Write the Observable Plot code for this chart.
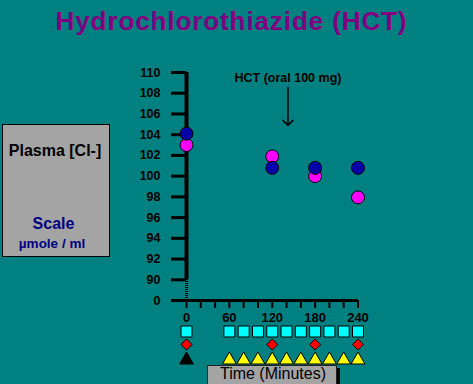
<!DOCTYPE html>
<html>
<head>
<meta charset="utf-8">
<script src="https://cdn.jsdelivr.net/npm/d3@7"></script>
<script src="https://cdn.jsdelivr.net/npm/@observablehq/plot@0.6"></script>
<style>
  html, body { margin: 0; padding: 0; background: #008080; }
  #wrap { position: relative; width: 473px; height: 384px; overflow: hidden; background: #008080; font-family: "Liberation Sans", Arial, sans-serif; }
  #wrap svg { position: absolute; left: 0; top: 0; }
  .abs { position: absolute; white-space: nowrap; line-height: 1; }
  #title { left: 0; width: 463px; text-align: center; top: 8px; font-size: 26px; letter-spacing: 0.9px; font-weight: bold; color: #800080; }
  #leftbox { left: 2px; top: 124px; width: 108px; height: 133px; box-sizing: border-box; background: #a4a4a4; border: 1px solid #000; }
  #timebox { left: 207px; top: 365px; width: 130px; height: 24px; box-sizing: border-box; background: #a4a4a4; border: 1px solid #222; box-shadow: 3px 3px 0 #000; }
  .ctr { text-align: center; }
</style>
</head>
<body>
<div id="wrap">
  <div id="plot"></div>
  <div id="title" class="abs">Hydrochlorothiazide (HCT)</div>
  <div id="leftbox" class="abs"></div>
  <div class="abs ctr" style="left:0;width:110px;top:143px;font-size:16px;font-weight:bold;color:#000;">Plasma [Cl-]</div>
  <div class="abs ctr" style="left:0;width:107px;top:216px;font-size:16px;font-weight:bold;color:#000080;">Scale</div>
  <div class="abs ctr" style="left:0;width:104px;top:237px;font-size:13.5px;font-weight:bold;color:#000080;">µmole / ml</div>
  <div id="timebox" class="abs"></div>
  <div class="abs ctr" style="left:207px;width:132px;top:366px;font-size:16px;color:#000;">Time (Minutes)</div>
</div>
<script>
// ---- data ----
const times = [0, 120, 180, 240];
const blueValues = [104.1, 100.8, 100.8, 100.8];
const magentaValues = [103.0, 101.9, 100.0, 97.95];

const yTicks = [88, 90, 92, 94, 96, 98, 100, 102, 104, 106, 108, 110];
const yTickLabels = ["0", "90", "92", "94", "96", "98", "100", "102", "104", "106", "108", "110"];
const xTickValues = [0, 60, 120, 180, 240];
const xTickLabels = ["0", "60", "120", "180", "240"];
const xMinorTicks = [0, 20, 40, 60, 80, 100, 120, 140, 160, 180, 200, 220, 240];

const squareTimes = [0, 60, 80, 100, 120, 140, 160, 180, 200, 220, 240];
const diamondTimes = [0, 120, 180, 240];
const triangleTimes = [0, 60, 80, 100, 120, 140, 160, 180, 200, 220, 240];

const doseTime = [142];
const doseLabel = ["HCT (oral 100 mg)"];
const doseLabelY = [109.5];
const doseArrowFrom = [108.55];
const doseArrowTo = [104.9];

const blueRows = times.map((t, i) => ({time: t, value: blueValues[i]}));
const magentaRows = times.map((t, i) => ({time: t, value: magentaValues[i]}));
const doseRows = doseTime.map((t, i) => ({time: t, label: doseLabel[i], ly: doseLabelY[i], y1: doseArrowFrom[i], y2: doseArrowTo[i]}));

const chart = Plot.plot({
  width: 473,
  height: 384,
  marginTop: 72,
  marginBottom: 84,
  marginLeft: 186,
  marginRight: 115.5,
  x: {domain: [0, 240], axis: null},
  y: {domain: [88, 110], axis: null},
  style: {background: "transparent", color: "#000", fontFamily: "'Liberation Sans', Arial, sans-serif", fontWeight: "bold", overflow: "visible"},
  marks: [
    // x axis line
    Plot.ruleY([yTicks[0]], {strokeWidth: 3}),
    // y axis line (solid above break, dashed below)
    Plot.ruleX([0], {y1: yTicks[1], y2: yTicks[yTicks.length - 1], strokeWidth: 4}),
    Plot.ruleX([0], {y1: yTicks[0], y2: yTicks[1], strokeWidth: 3, strokeDasharray: "1,1"}),
    Plot.axisY({ticks: yTicks, anchor: "left", tickSize: 15, tickPadding: 11, strokeWidth: 3,
      tickFormat: d => yTickLabels[yTicks.indexOf(d)], fontSize: 12.5, label: null}),
    Plot.axisX({ticks: xMinorTicks, anchor: "bottom", tickSize: 8, strokeWidth: 2, tickFormat: () => "", label: null}),
    Plot.axisX({ticks: xTickValues, anchor: "bottom", tickSize: 0, tickPadding: 12,
      tickFormat: d => xTickLabels[xTickValues.indexOf(d)], fontSize: 13, label: null}),
    // annotation
    Plot.text(doseRows, {x: "time", y: "ly", text: "label", fontSize: 12.5, fontWeight: "bold"}),
    Plot.arrow(doseRows, {x: "time", y1: "y1", y2: "y2", strokeWidth: 1.5, headLength: 7, headAngle: 90}),
    // data points
    Plot.dot(magentaRows, {x: "time", y: "value", r: 6.5, fill: "#ff00ff", stroke: "#000", strokeWidth: 1}),
    Plot.dot(blueRows, {x: "time", y: "value", r: 6.5, fill: "#0000a8", stroke: "#000", strokeWidth: 1}),
    // sampling markers below the axis
    Plot.dot(squareTimes, {x: d => d, frameAnchor: "bottom", dy: 31, symbol: "square", r: 6.2, fill: "#00ffff", stroke: "#000", strokeWidth: 1}),
    Plot.dot(diamondTimes, {x: d => d, frameAnchor: "bottom", dy: 44, symbol: "diamond2", r: 5.0, fill: "#ff0000", stroke: "#000", strokeWidth: 1}),
    Plot.dot(triangleTimes, {x: d => d, frameAnchor: "bottom", dy: 59.5, symbol: "triangle2", r: 6.6,
      fill: d => d === 0 ? "#000" : "#ffff00", stroke: "#000", strokeWidth: 1})
  ]
});
document.getElementById("plot").appendChild(chart);
</script>
</body>
</html>
